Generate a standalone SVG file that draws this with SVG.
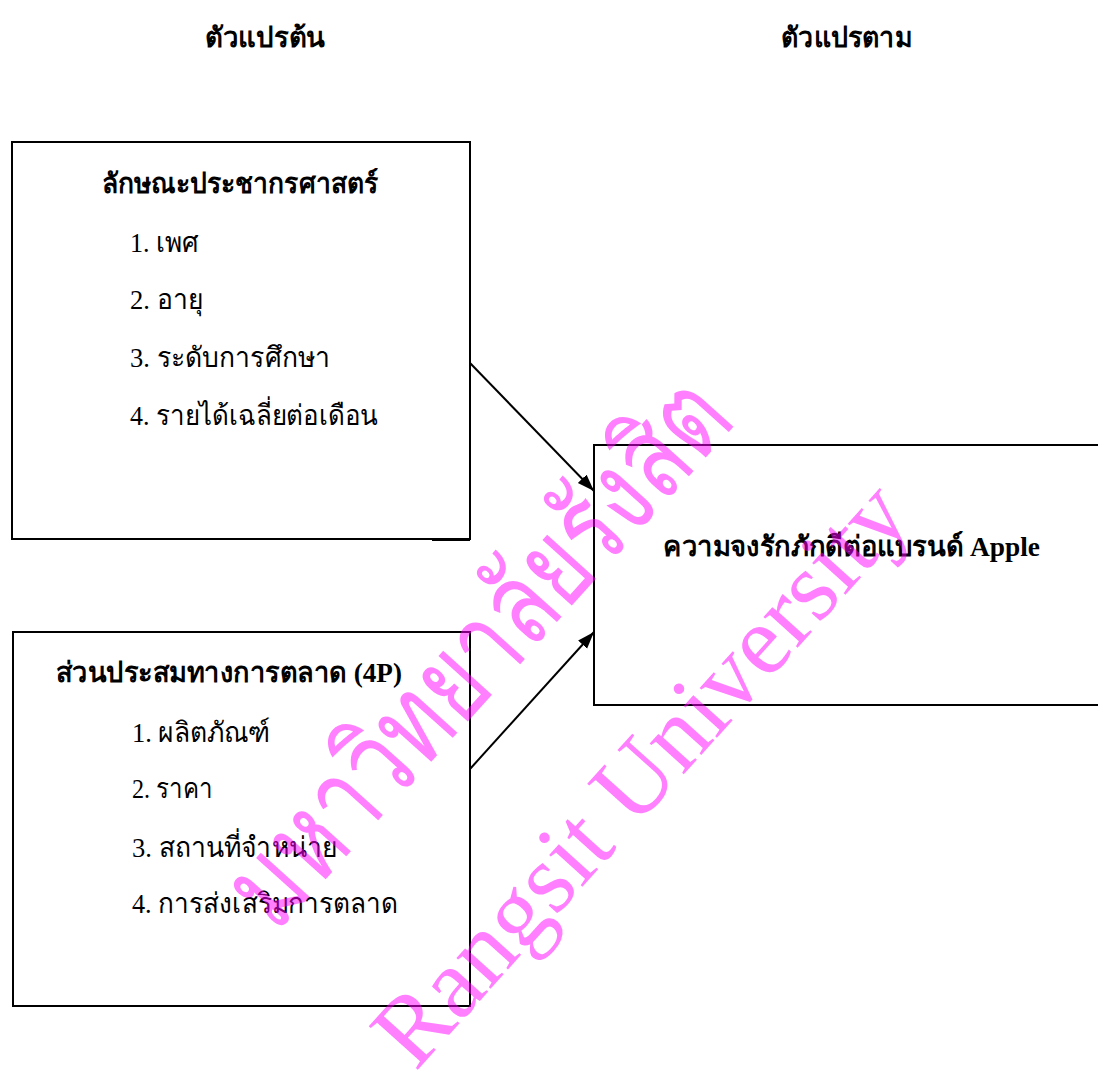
<svg xmlns="http://www.w3.org/2000/svg" width="1098" height="1075" viewBox="0 0 1098 1075">
  <style>
    .box { fill: #ffffff; stroke: #000000; stroke-width: 2; }
    .t { font-family: "Liberation Serif", "Noto Sans", serif; fill: #000000; }
    .hd { font-size: 28px; font-weight: bold; }
    .it { font-size: 28px; }
    .conn { stroke: #000000; stroke-width: 2; fill: none; }
    .wm { font-family: "Liberation Serif", "Noto Sans", serif; fill: #ff00ff; fill-opacity: 0.5; }
  </style>
  <defs>
    <marker id="arrow" markerWidth="18" markerHeight="14" refX="17" refY="7" orient="auto" markerUnits="userSpaceOnUse">
      <path d="M0,1 L17,7 L0,13 Z" fill="#000000"/>
    </marker>
  </defs>
  <rect width="1098" height="1075" fill="#ffffff"/>

  <g id="header-left">
    <text class="t hd" x="205" y="47" textLength="120" lengthAdjust="spacingAndGlyphs">ตัวแปรต้น</text>
  </g>
  <g id="header-right">
    <text class="t hd" x="781" y="47" textLength="131" lengthAdjust="spacingAndGlyphs">ตัวแปรตาม</text>
  </g>

  <g id="node-demographics">
    <rect class="box" x="12" y="142" width="458" height="397"/>
    <line x1="432" y1="539.5" x2="470" y2="539.5" stroke="#000000" stroke-width="3"/>
    <text class="t hd" x="102" y="193" textLength="276" lengthAdjust="spacingAndGlyphs">ลักษณะประชากรศาสตร์</text>
    <text class="t it" x="130" y="252" textLength="69" lengthAdjust="spacingAndGlyphs">1. เพศ</text>
    <text class="t it" x="130" y="309" textLength="73" lengthAdjust="spacingAndGlyphs">2. อายุ</text>
    <text class="t it" x="130" y="367" textLength="200" lengthAdjust="spacingAndGlyphs">3. ระดับการศึกษา</text>
    <text class="t it" x="130" y="425" textLength="248" lengthAdjust="spacingAndGlyphs">4. รายได้เฉลี่ยต่อเดือน</text>
  </g>

  <g id="node-marketing-mix">
    <rect class="box" x="13" y="632" width="457" height="374"/>
    <text class="t hd" x="56" y="682" textLength="346" lengthAdjust="spacingAndGlyphs">ส่วนประสมทางการตลาด (4P)</text>
    <text class="t it" x="132" y="742" textLength="138" lengthAdjust="spacingAndGlyphs">1. ผลิตภัณฑ์</text>
    <text class="t it" x="132" y="798" textLength="81" lengthAdjust="spacingAndGlyphs">2. ราคา</text>
    <text class="t it" x="132" y="857" textLength="205" lengthAdjust="spacingAndGlyphs">3. สถานที่จำหน่าย</text>
    <text class="t it" x="132" y="913" textLength="266" lengthAdjust="spacingAndGlyphs">4. การส่งเสริมการตลาด</text>
  </g>

  <g id="node-brand-loyalty">
    <rect class="box" x="594" y="445" width="506" height="260"/>
    <text class="t hd" x="663" y="556" textLength="377" lengthAdjust="spacingAndGlyphs">ความจงรักภักดีต่อแบรนด์ Apple</text>
  </g>

  <g id="connectors">
    <line class="conn" x1="470" y1="363" x2="594" y2="491" marker-end="url(#arrow)"/>
    <line class="conn" x1="470" y1="769" x2="594" y2="632" marker-end="url(#arrow)"/>
  </g>

  <g id="watermark">
    <text class="wm" transform="translate(482,655) rotate(-48)" x="0" y="34" font-size="118" text-anchor="middle" textLength="690" lengthAdjust="spacingAndGlyphs">มหาวิทยาลัยรังสิต</text>
    <text class="wm" transform="translate(641,774) rotate(-48)" x="0" y="32" font-size="100" text-anchor="middle" textLength="745" lengthAdjust="spacingAndGlyphs">Rangsit University</text>
  </g>
</svg>
